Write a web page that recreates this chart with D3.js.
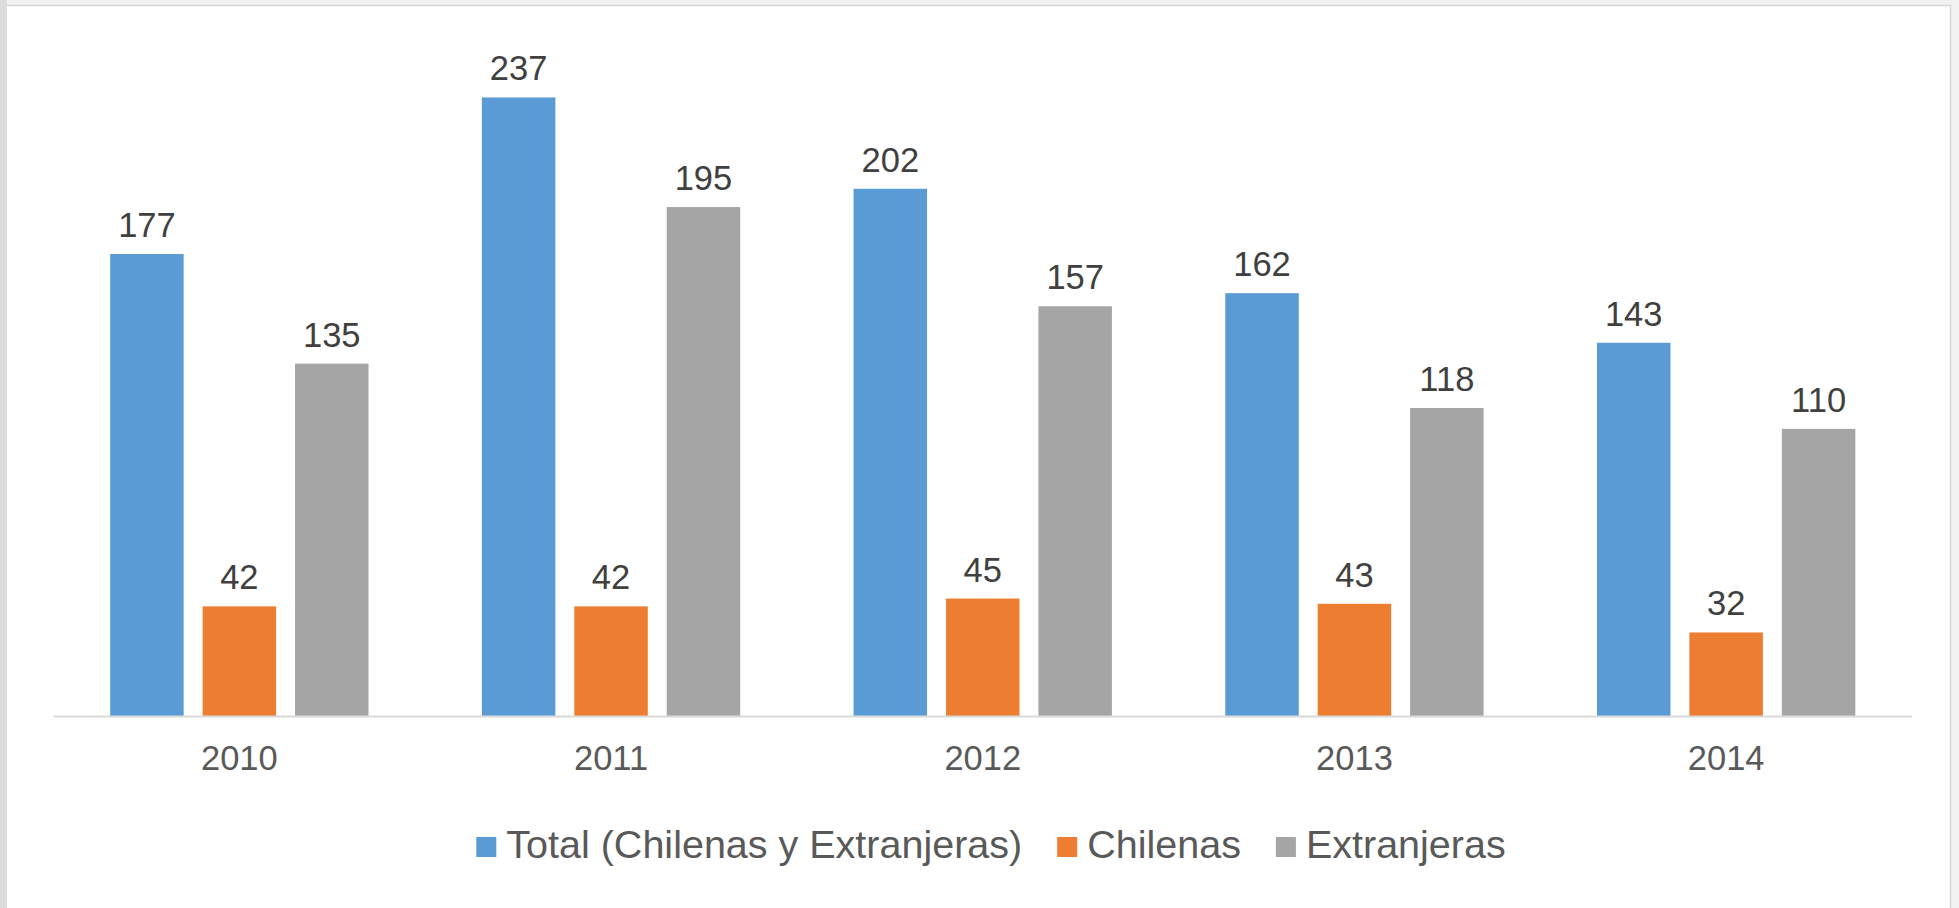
<!DOCTYPE html>
<html>
<head>
<meta charset="utf-8">
<script src="https://cdn.jsdelivr.net/npm/d3@7"></script>
<style>
  html, body { margin: 0; padding: 0; background: #f2f2f2; }
  svg { display: block; }
</style>
</head>
<body>
<svg id="chart" width="1959" height="908"></svg>
<script>
const years = ["2010", "2011", "2012", "2013", "2014"];
const seriesNames = ["Total (Chilenas y Extranjeras)", "Chilenas", "Extranjeras"];
const totalValues = [177, 237, 202, 162, 143];
const chilenasValues = [42, 42, 45, 43, 32];
const extranjerasValues = [135, 195, 157, 118, 110];
const seriesColors = ["#5B9BD5", "#ED7D31", "#A5A5A5"];

const seriesValues = [totalValues, chilenasValues, extranjerasValues];
const data = years.map((y, i) => ({
  year: y,
  values: seriesNames.map((s, k) => ({ series: s, value: seriesValues[k][i], color: seriesColors[k] }))
}));

const svg = d3.select("#chart");
const W = 1959, H = 908;

// frame
svg.append("rect").attr("x", 0).attr("y", 0).attr("width", W).attr("height", H).attr("fill", "#f2f2f2");
svg.append("rect").attr("x", 0).attr("y", 0).attr("width", 7).attr("height", H).attr("fill", "#dcdcdc");
svg.append("rect").attr("x", 7).attr("y", 6).attr("width", 1943).attr("height", H - 6).attr("fill", "#ffffff");
svg.append("line").attr("x1", 7).attr("x2", 1951).attr("y1", 5.5).attr("y2", 5.5).attr("stroke", "#d6d6d6").attr("stroke-width", 1.5);
svg.append("line").attr("x1", 1950.5).attr("x2", 1950.5).attr("y1", 5).attr("y2", H).attr("stroke", "#d6d6d6").attr("stroke-width", 1.5);

const x0 = d3.scaleBand().domain(years).range([53.5, 1912]).paddingInner(0.305).paddingOuter(0.1525);
const x1 = d3.scaleBand().domain(seriesNames).range([0, x0.bandwidth()]).paddingInner(0.205);
const y = d3.scaleLinear().domain([0, 250]).range([716, 63.5]);

const groups = svg.append("g").selectAll("g").data(data).join("g")
  .attr("transform", d => `translate(${x0(d.year)},0)`);

groups.selectAll("rect").data(d => d.values).join("rect")
  .attr("x", d => x1(d.series))
  .attr("y", d => y(d.value))
  .attr("width", x1.bandwidth())
  .attr("height", d => y(0) - y(d.value))
  .attr("fill", d => d.color);

groups.selectAll("text.lbl").data(d => d.values).join("text")
  .attr("class", "lbl")
  .attr("x", d => x1(d.series) + x1.bandwidth() / 2)
  .attr("y", d => y(d.value) - 17)
  .attr("text-anchor", "middle")
  .attr("font-family", "Liberation Sans, Arial, sans-serif")
  .attr("font-size", 34.5)
  .attr("fill", "#404040")
  .text(d => d.value);

// baseline axis
const xAxis = d3.axisBottom(x0).tickSize(0).tickPadding(0);
const ax = svg.append("g").attr("transform", `translate(0,${y(0)})`).call(xAxis);
ax.select(".domain").attr("stroke", "#d9d9d9").attr("stroke-width", 2).attr("d", "M53.5,0.5H1912");
ax.selectAll(".tick text")
  .attr("y", 54)
  .attr("dy", 0)
  .attr("font-family", "Liberation Sans, Arial, sans-serif")
  .attr("font-size", 34.5)
  .attr("fill", "#595959");

// legend
const legend = svg.append("g");
const items = legend.selectAll("g").data(seriesNames).join("g");
items.append("rect").attr("width", 20).attr("height", 20).attr("y", 837).attr("fill", (d, i) => seriesColors[i]);
items.append("text").attr("x", 30).attr("y", 858)
  .attr("font-family", "Liberation Sans, Arial, sans-serif")
  .attr("font-size", 39.5)
  .attr("fill", "#595959")
  .text(d => d);
let widths = [];
items.each(function () { widths.push(d3.select(this).select("text").node().getComputedTextLength() + 30); });
const gap = 35;
const totalW = d3.sum(widths) + gap * (widths.length - 1);
let cx = 991 - totalW / 2;
items.attr("transform", (d, i) => {
  const t = `translate(${cx},0)`;
  cx += widths[i] + gap;
  return t;
});
</script>
</body>
</html>
